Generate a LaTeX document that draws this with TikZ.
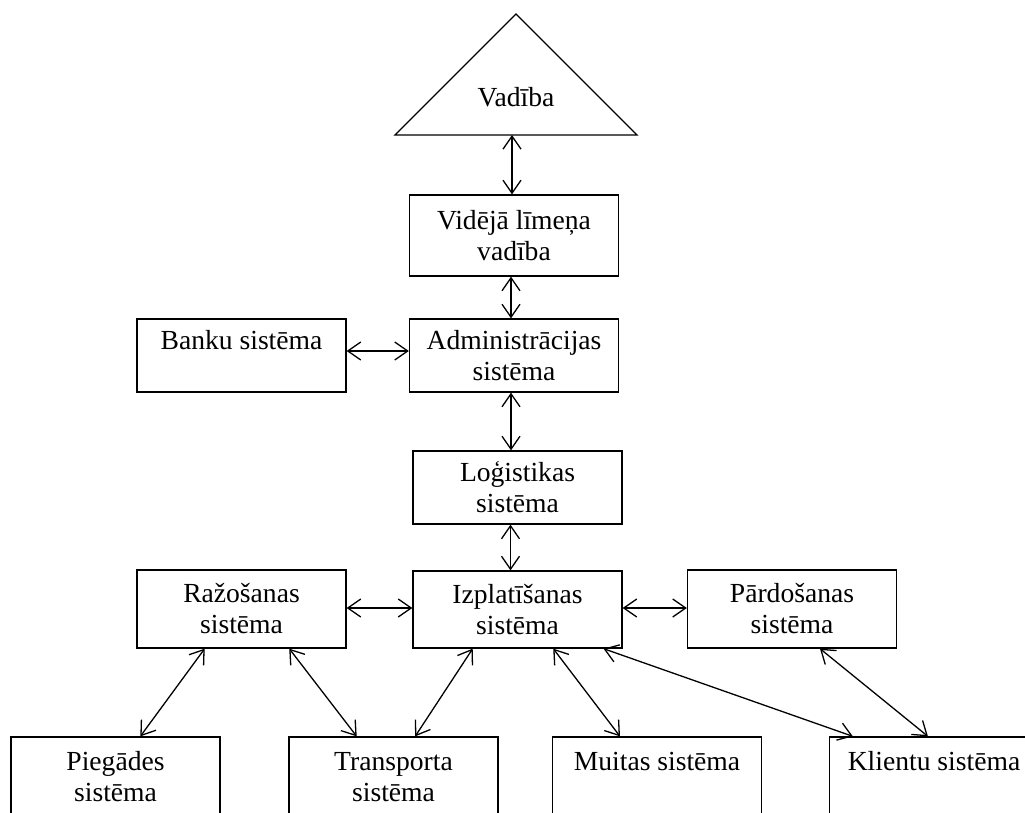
\documentclass[tikz,border=0pt]{standalone}
\usepackage{fontspec}
\setmainfont{Liberation Serif}
\usetikzlibrary{arrows.meta,calc}

\tikzset{
  labelfont/.style={font=\fontsize{27.6pt}{31pt}\selectfont},
  sysbox/.style={draw, line width=1.3pt, minimum width=209pt, minimum height=#1,
    align=center, inner sep=0pt, labelfont},
  sysbox/.default=73pt,
  link/.style={line width=1.3pt, {Straight Barb[length=13pt,width=18pt,line width=1.3pt]}-{Straight Barb[length=13pt,width=18pt,line width=1.3pt]}},
}
% empty second line so one-line labels sit like two-line ones
\newcommand{\blankline}{\phantom{sistēma}}

\begin{document}
\begin{tikzpicture}[x=1pt,y=-1pt]
\useasboundingbox (0,0) rectangle (1025,813);
\clip (0,0) rectangle (1025,813);

% top management triangle
\draw[line width=1.3pt] (395,135) -- (516,14) -- (637,135) -- cycle;
\node[labelfont] (vad) at (516,97) {Vadība};
\coordinate (vadbase) at (512,135);

% central column
\node[sysbox=81pt] (vid) at (514,235.5) {Vidējā līmeņa\\vadība};
\node[sysbox] (adm) at (514,355.5) {Administrācijas\\sistēma};
\node[sysbox] (bank) at (241.5,355.5) {Banku sistēma\\\blankline};
\node[sysbox] (log) at (517.5,487.5) {Loģistikas\\sistēma};
\node[sysbox=77pt] (izp) at (517.5,609.5) {Izplatīšanas\\sistēma};
\node[sysbox=78pt] (raz) at (241.5,609) {Ražošanas\\sistēma};
\node[sysbox=78pt] (par) at (792,609) {Pārdošanas\\sistēma};

% bottom row
\node[sysbox=80pt] (pie) at (115.5,777) {Piegādes\\sistēma};
\node[sysbox=80pt] (tra) at (393.5,777) {Transporta\\sistēma};
\node[sysbox=80pt] (mui) at (657,777) {Muitas sistēma\\\blankline};
\node[sysbox=80pt] (kli) at (934,777) {Klientu sistēma\\\blankline};

% vertical links
\draw[link] (vadbase) -- (vadbase |- vid.north);
\draw[link] (vid.south) ++(-3,0) coordinate (v1) (v1) -- (v1 |- adm.north);
\draw[link] (adm.south) ++(-3,0) coordinate (a1) (a1) -- (a1 |- log.north);
\draw[link] (log.south) ++(-7,0) coordinate (l1) (l1) -- (l1 |- izp.north);

% horizontal links
\draw[link] ($(bank.east)+(0,-4.5)$) -- ($(adm.west)+(0,-4.5)$);
\draw[link] ($(raz.east)+(0,-1)$) -- ($(raz.east -| izp.west)+(0,-1)$);
\draw[link] ($(izp.east)+(0,-1.5)$) -- ($(izp.east -| par.west)+(0,-1.5)$);

% diagonal links
\draw[link] ($(raz.south west)!0.325!(raz.south east)$) -- ($(pie.north west)!0.618!(pie.north east)$);
\draw[link] ($(raz.south west)!0.727!(raz.south east)$) -- ($(tra.north west)!0.325!(tra.north east)$);
\draw[link] ($(izp.south west)!0.287!(izp.south east)$) -- ($(tra.north west)!0.603!(tra.north east)$);
\draw[link] ($(izp.south west)!0.67!(izp.south east)$) -- ($(mui.north west)!0.324!(mui.north east)$);
\draw[link] ($(izp.south west)!0.909!(izp.south east)$) -- ($(kli.north west)!0.114!(kli.north east)$);
\draw[link] ($(par.south west)!0.633!(par.south east)$) -- ($(kli.north west)!0.471!(kli.north east)$);
\end{tikzpicture}
\end{document}
